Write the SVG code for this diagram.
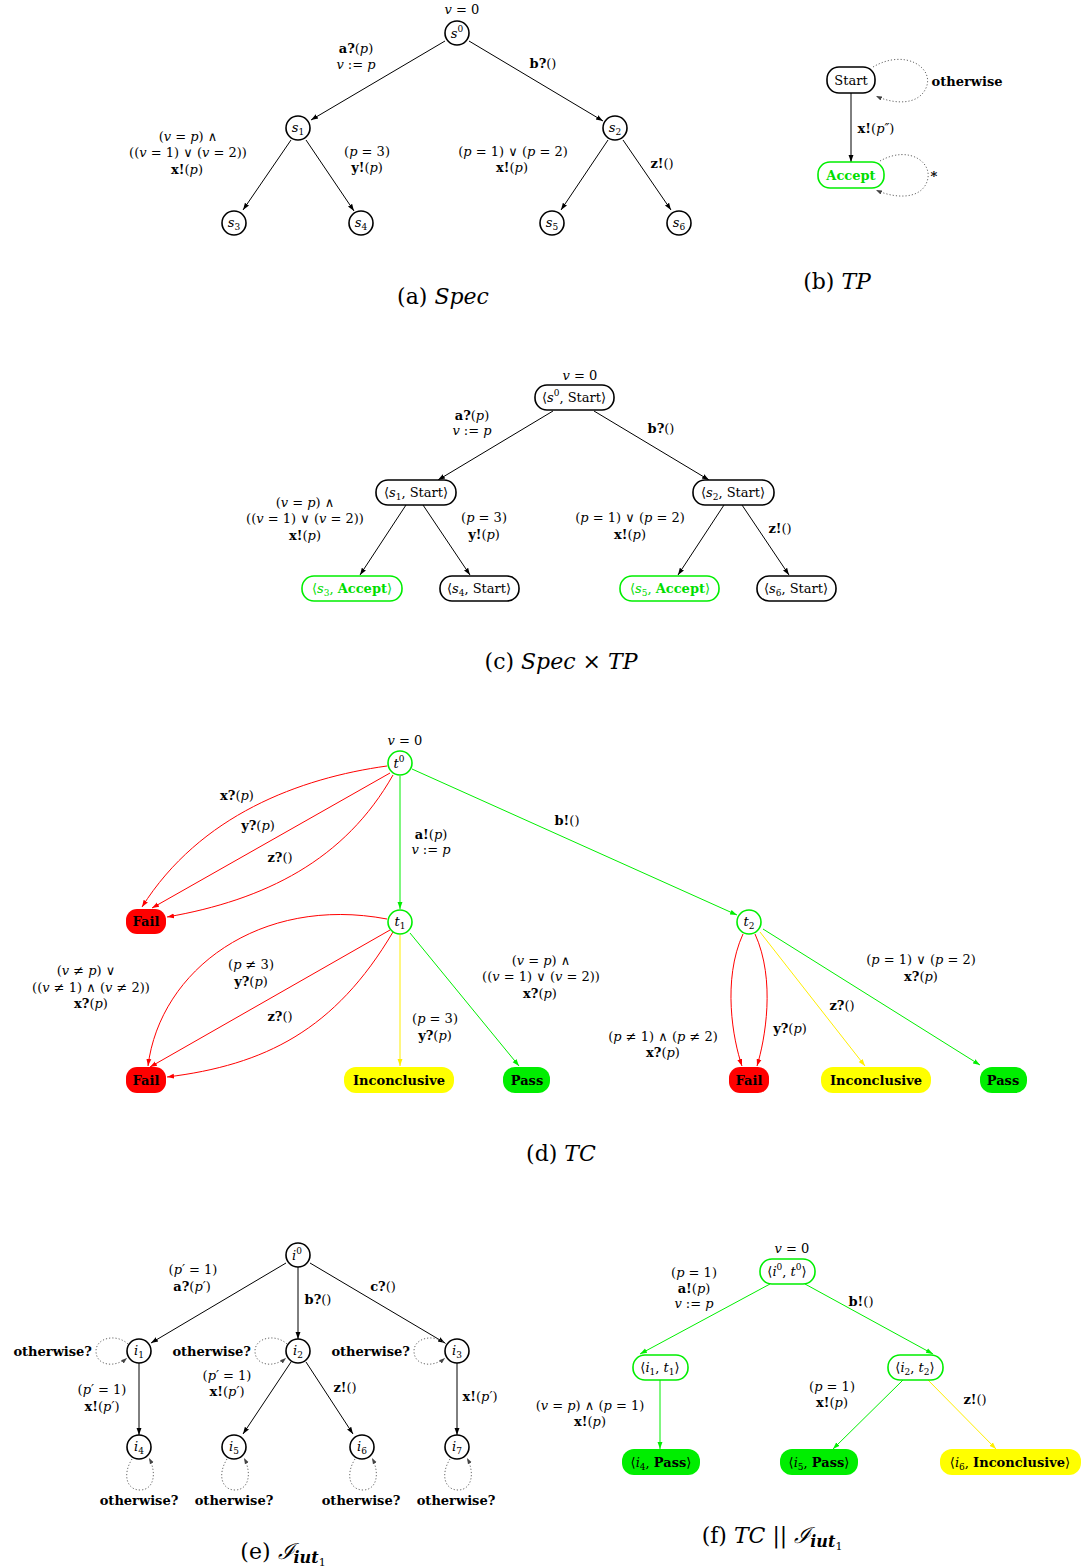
<svg xmlns="http://www.w3.org/2000/svg" width="1088" height="1568" viewBox="0 0 1088 1568">
<style>
text{font-family:"DejaVu Serif","Liberation Serif",serif;font-size:13px;fill:#000;text-anchor:middle}
.i{font-style:italic}
.b{font-weight:bold}
.sm{font-size:9px}
.cap{font-size:22px}
.end{text-anchor:end}
.n{fill:#fff;stroke:#000;stroke-width:1.6}
.ng{fill:#fff;stroke:#00ee00;stroke-width:1.6}
.e{fill:none;stroke:#000;stroke-width:1;marker-end:url(#ak)}
.er{fill:none;stroke:#ff0000;stroke-width:1;marker-end:url(#ar)}
.eg{fill:none;stroke:#00ee00;stroke-width:1;marker-end:url(#ag)}
.ey{fill:none;stroke:#ffee00;stroke-width:1;marker-end:url(#ay)}
.ed{fill:none;stroke:#666;stroke-width:1;stroke-dasharray:1.2 2;marker-end:url(#ad)}
.fail{fill:#ff0000}
.pass{fill:#00ee00}
.inc{fill:#ffff00}
</style>
<defs>
<marker id="ak" viewBox="0 0 10 10" refX="10" refY="5" markerWidth="7" markerHeight="7" markerUnits="userSpaceOnUse" orient="auto"><path d="M0,1.5 L10,5 L0,8.5 z" fill="#000"/></marker>
<marker id="ar" viewBox="0 0 10 10" refX="10" refY="5" markerWidth="7" markerHeight="7" markerUnits="userSpaceOnUse" orient="auto"><path d="M0,1.5 L10,5 L0,8.5 z" fill="#ff0000"/></marker>
<marker id="ag" viewBox="0 0 10 10" refX="10" refY="5" markerWidth="7" markerHeight="7" markerUnits="userSpaceOnUse" orient="auto"><path d="M0,1.5 L10,5 L0,8.5 z" fill="#00ee00"/></marker>
<marker id="ay" viewBox="0 0 10 10" refX="10" refY="5" markerWidth="7" markerHeight="7" markerUnits="userSpaceOnUse" orient="auto"><path d="M0,1.5 L10,5 L0,8.5 z" fill="#ffee00"/></marker>
<marker id="ad" viewBox="0 0 10 10" refX="10" refY="5" markerWidth="6" markerHeight="6" markerUnits="userSpaceOnUse" orient="auto"><path d="M0,1.5 L10,5 L0,8.5 z" fill="#444"/></marker>
</defs>

<!-- ===================== (a) Spec ===================== -->
<g id="a-connectors">
<line class="e" x1="445" y1="41" x2="311" y2="120"/>
<line class="e" x1="469" y1="41" x2="603" y2="121"/>
<line class="e" x1="291" y1="140" x2="243" y2="210"/>
<line class="e" x1="306" y1="140" x2="354" y2="211"/>
<line class="e" x1="608" y1="140" x2="561" y2="210"/>
<line class="e" x1="623" y1="140" x2="671" y2="210"/>
</g>
<g id="a-labels">
<text x="462" y="14" font-size="12"><tspan class="i">v</tspan> = 0</text>
<text x="356" y="53"><tspan class="b">a?</tspan>(<tspan class="i">p</tspan>)</text>
<text x="356" y="69"><tspan class="i">v</tspan> := <tspan class="i">p</tspan></text>
<text x="543" y="68"><tspan class="b">b?</tspan>()</text>
<text x="188" y="141">(<tspan class="i">v</tspan> = <tspan class="i">p</tspan>) ∧</text>
<text x="188" y="157">((<tspan class="i">v</tspan> = 1) ∨ (<tspan class="i">v</tspan> = 2))</text>
<text x="187" y="174"><tspan class="b">x!</tspan>(<tspan class="i">p</tspan>)</text>
<text x="367" y="156">(<tspan class="i">p</tspan> = 3)</text>
<text x="367" y="172"><tspan class="b">y!</tspan>(<tspan class="i">p</tspan>)</text>
<text x="513" y="156">(<tspan class="i">p</tspan> = 1) ∨ (<tspan class="i">p</tspan> = 2)</text>
<text x="512" y="172"><tspan class="b">x!</tspan>(<tspan class="i">p</tspan>)</text>
<text x="662" y="168"><tspan class="b">z!</tspan>()</text>
</g>
<g id="a-s0"><circle class="n" cx="457" cy="33" r="12"/><text x="457" y="38"><tspan class="i">s</tspan><tspan class="sm" dy="-6">0</tspan></text></g>
<g id="a-s1"><circle class="n" cx="298" cy="128" r="12"/><text x="298" y="132"><tspan class="i">s</tspan><tspan class="sm" dy="3">1</tspan></text></g>
<g id="a-s2"><circle class="n" cx="615" cy="128" r="12"/><text x="615" y="132"><tspan class="i">s</tspan><tspan class="sm" dy="3">2</tspan></text></g>
<g id="a-s3"><circle class="n" cx="234" cy="223" r="12"/><text x="234" y="227"><tspan class="i">s</tspan><tspan class="sm" dy="3">3</tspan></text></g>
<g id="a-s4"><circle class="n" cx="361" cy="223" r="12"/><text x="361" y="227"><tspan class="i">s</tspan><tspan class="sm" dy="3">4</tspan></text></g>
<g id="a-s5"><circle class="n" cx="552" cy="223" r="12"/><text x="552" y="227"><tspan class="i">s</tspan><tspan class="sm" dy="3">5</tspan></text></g>
<g id="a-s6"><circle class="n" cx="679" cy="223" r="12"/><text x="679" y="227"><tspan class="i">s</tspan><tspan class="sm" dy="3">6</tspan></text></g>
<text class="cap" x="443" y="304">(a) <tspan class="i">Spec</tspan></text>

<!-- ===================== (b) TP ===================== -->
<g id="b-connectors">
<line class="e" x1="851" y1="93" x2="851" y2="162"/>
<path class="ed" d="M873 67 C905 48 935 68 926 88 C918 106 893 104 876 96"/>
<path class="ed" d="M880 161 C910 144 936 164 926 184 C918 200 893 198 876 190"/>
</g>
<g id="b-labels">
<text x="876" y="133"><tspan class="b">x!</tspan>(<tspan class="i">p″</tspan>)</text>
<text x="967" y="86" class="b">otherwise</text>
<text x="934" y="181" class="b">*</text>
</g>
<g id="b-start"><rect class="n" x="827" y="67" width="48" height="26" rx="12"/><text x="851" y="85">Start</text></g>
<g id="b-accept"><rect class="ng" x="818" y="162" width="66" height="26" rx="12"/><text x="851" y="180" class="b" style="fill:#00dd00">Accept</text></g>
<text class="cap" x="837" y="289">(b) <tspan class="i">TP</tspan></text>

<!-- ===================== (c) Spec x TP ===================== -->
<g id="c-connectors">
<line class="e" x1="553" y1="411" x2="438" y2="480"/>
<line class="e" x1="594" y1="411" x2="709" y2="480"/>
<line class="e" x1="406" y1="505" x2="360" y2="575"/>
<line class="e" x1="423" y1="505" x2="470" y2="575"/>
<line class="e" x1="724" y1="505" x2="678" y2="575"/>
<line class="e" x1="742" y1="505" x2="789" y2="575"/>
</g>
<g id="c-labels">
<text x="580" y="380" font-size="12"><tspan class="i">v</tspan> = 0</text>
<text x="472" y="420"><tspan class="b">a?</tspan>(<tspan class="i">p</tspan>)</text>
<text x="472" y="435"><tspan class="i">v</tspan> := <tspan class="i">p</tspan></text>
<text x="661" y="433"><tspan class="b">b?</tspan>()</text>
<text x="305" y="507">(<tspan class="i">v</tspan> = <tspan class="i">p</tspan>) ∧</text>
<text x="305" y="523">((<tspan class="i">v</tspan> = 1) ∨ (<tspan class="i">v</tspan> = 2))</text>
<text x="305" y="540"><tspan class="b">x!</tspan>(<tspan class="i">p</tspan>)</text>
<text x="484" y="522">(<tspan class="i">p</tspan> = 3)</text>
<text x="484" y="539"><tspan class="b">y!</tspan>(<tspan class="i">p</tspan>)</text>
<text x="630" y="522">(<tspan class="i">p</tspan> = 1) ∨ (<tspan class="i">p</tspan> = 2)</text>
<text x="630" y="539"><tspan class="b">x!</tspan>(<tspan class="i">p</tspan>)</text>
<text x="780" y="533"><tspan class="b">z!</tspan>()</text>
</g>
<g id="c-s0"><rect class="n" x="535" y="385" width="79" height="25" rx="12"/><text x="574" y="402">⟨<tspan class="i">s</tspan><tspan class="sm" dy="-6">0</tspan><tspan dy="6">, Start⟩</tspan></text></g>
<g id="c-s1"><rect class="n" x="376" y="480" width="80" height="25" rx="12"/><text x="416" y="497">⟨<tspan class="i">s</tspan><tspan class="sm" dy="3">1</tspan><tspan dy="-3">, Start⟩</tspan></text></g>
<g id="c-s2"><rect class="n" x="693" y="480" width="81" height="25" rx="12"/><text x="733" y="497">⟨<tspan class="i">s</tspan><tspan class="sm" dy="3">2</tspan><tspan dy="-3">, Start⟩</tspan></text></g>
<g id="c-s3"><rect class="ng" x="302" y="576" width="100" height="25" rx="12"/><text x="352" y="593" style="fill:#00dd00">⟨<tspan class="i">s</tspan><tspan class="sm" dy="3">3</tspan><tspan dy="-3">, </tspan><tspan class="b">Accept</tspan>⟩</text></g>
<g id="c-s4"><rect class="n" x="440" y="576" width="79" height="25" rx="12"/><text x="479" y="593">⟨<tspan class="i">s</tspan><tspan class="sm" dy="3">4</tspan><tspan dy="-3">, Start⟩</tspan></text></g>
<g id="c-s5"><rect class="ng" x="620" y="576" width="99" height="25" rx="12"/><text x="670" y="593" style="fill:#00dd00">⟨<tspan class="i">s</tspan><tspan class="sm" dy="3">5</tspan><tspan dy="-3">, </tspan><tspan class="b">Accept</tspan>⟩</text></g>
<g id="c-s6"><rect class="n" x="757" y="576" width="79" height="25" rx="12"/><text x="796" y="593">⟨<tspan class="i">s</tspan><tspan class="sm" dy="3">6</tspan><tspan dy="-3">, Start⟩</tspan></text></g>
<text class="cap" x="561" y="669">(c) <tspan class="i">Spec</tspan> × <tspan class="i">TP</tspan></text>

<!-- ===================== (d) TC ===================== -->
<g id="d-connectors">
<path class="er" d="M387 766 C300 778 200 815 142 907"/>
<line class="er" x1="390" y1="773" x2="152" y2="908"/>
<path class="er" d="M393 775 C345 860 265 900 167 917"/>
<line class="eg" x1="400" y1="776" x2="400" y2="909"/>
<line class="eg" x1="412" y1="769" x2="737" y2="915"/>
<path class="er" d="M387 919 C260 895 160 970 148 1066"/>
<line class="er" x1="390" y1="930" x2="150" y2="1067"/>
<path class="er" d="M393 932 C335 1030 265 1065 167 1077"/>
<line class="ey" x1="400" y1="935" x2="400" y2="1066"/>
<line class="eg" x1="410" y1="933" x2="519" y2="1066"/>
<path class="er" d="M743 934 C722 980 733 1040 742 1066"/>
<path class="er" d="M755 934 C776 980 765 1040 757 1066"/>
<line class="ey" x1="760" y1="932" x2="865" y2="1066"/>
<line class="eg" x1="763" y1="929" x2="980" y2="1065"/>
</g>
<g id="d-labels">
<text x="405" y="745" font-size="12"><tspan class="i">v</tspan> = 0</text>
<text x="237" y="800"><tspan class="b">x?</tspan>(<tspan class="i">p</tspan>)</text>
<text x="258" y="830"><tspan class="b">y?</tspan>(<tspan class="i">p</tspan>)</text>
<text x="280" y="862"><tspan class="b">z?</tspan>()</text>
<text x="431" y="839"><tspan class="b">a!</tspan>(<tspan class="i">p</tspan>)</text>
<text x="431" y="854"><tspan class="i">v</tspan> := <tspan class="i">p</tspan></text>
<text x="567" y="825"><tspan class="b">b!</tspan>()</text>
<text x="86" y="975">(<tspan class="i">v</tspan> ≠ <tspan class="i">p</tspan>) ∨</text>
<text x="91" y="992">((<tspan class="i">v</tspan> ≠ 1) ∧ (<tspan class="i">v</tspan> ≠ 2))</text>
<text x="91" y="1008"><tspan class="b">x?</tspan>(<tspan class="i">p</tspan>)</text>
<text x="251" y="969">(<tspan class="i">p</tspan> ≠ 3)</text>
<text x="251" y="986"><tspan class="b">y?</tspan>(<tspan class="i">p</tspan>)</text>
<text x="280" y="1021"><tspan class="b">z?</tspan>()</text>
<text x="435" y="1023">(<tspan class="i">p</tspan> = 3)</text>
<text x="435" y="1040"><tspan class="b">y?</tspan>(<tspan class="i">p</tspan>)</text>
<text x="541" y="965">(<tspan class="i">v</tspan> = <tspan class="i">p</tspan>) ∧</text>
<text x="541" y="981">((<tspan class="i">v</tspan> = 1) ∨ (<tspan class="i">v</tspan> = 2))</text>
<text x="540" y="998"><tspan class="b">x?</tspan>(<tspan class="i">p</tspan>)</text>
<text x="663" y="1041">(<tspan class="i">p</tspan> ≠ 1) ∧ (<tspan class="i">p</tspan> ≠ 2)</text>
<text x="663" y="1057"><tspan class="b">x?</tspan>(<tspan class="i">p</tspan>)</text>
<text x="790" y="1033"><tspan class="b">y?</tspan>(<tspan class="i">p</tspan>)</text>
<text x="842" y="1010"><tspan class="b">z?</tspan>()</text>
<text x="921" y="964">(<tspan class="i">p</tspan> = 1) ∨ (<tspan class="i">p</tspan> = 2)</text>
<text x="921" y="981"><tspan class="b">x?</tspan>(<tspan class="i">p</tspan>)</text>
</g>
<g id="d-t0"><circle class="ng" cx="400" cy="763" r="12"/><text x="399" y="768"><tspan class="i">t</tspan><tspan class="sm" dy="-6">0</tspan></text></g>
<g id="d-t1"><circle class="ng" cx="400" cy="922" r="12"/><text x="400" y="926"><tspan class="i">t</tspan><tspan class="sm" dy="3">1</tspan></text></g>
<g id="d-t2"><circle class="ng" cx="749" cy="922" r="12"/><text x="749" y="926"><tspan class="i">t</tspan><tspan class="sm" dy="3">2</tspan></text></g>
<g id="d-fail1"><rect class="fail" x="126" y="909" width="40" height="25" rx="11"/><text x="146" y="926" class="b">Fail</text></g>
<g id="d-fail2"><rect class="fail" x="126" y="1067" width="40" height="26" rx="11"/><text x="146" y="1085" class="b">Fail</text></g>
<g id="d-inc1"><rect class="inc" x="344" y="1067" width="110" height="26" rx="12"/><text x="399" y="1085" class="b">Inconclusive</text></g>
<g id="d-pass1"><rect class="pass" x="503" y="1067" width="47" height="26" rx="12"/><text x="527" y="1085" class="b">Pass</text></g>
<g id="d-fail3"><rect class="fail" x="729" y="1067" width="40" height="26" rx="11"/><text x="749" y="1085" class="b">Fail</text></g>
<g id="d-inc2"><rect class="inc" x="821" y="1067" width="110" height="26" rx="12"/><text x="876" y="1085" class="b">Inconclusive</text></g>
<g id="d-pass2"><rect class="pass" x="980" y="1067" width="47" height="26" rx="12"/><text x="1003" y="1085" class="b">Pass</text></g>
<text class="cap" x="561" y="1161">(d) <tspan class="i">TC</tspan></text>

<!-- ===================== (e) I_iut1 ===================== -->
<g id="e-connectors">
<line class="e" x1="286" y1="1263" x2="151" y2="1343"/>
<line class="e" x1="298" y1="1267" x2="298" y2="1339"/>
<line class="e" x1="310" y1="1263" x2="445" y2="1343"/>
<line class="e" x1="139" y1="1363" x2="139" y2="1435"/>
<line class="e" x1="291" y1="1362" x2="243" y2="1434"/>
<line class="e" x1="306" y1="1362" x2="353" y2="1434"/>
<line class="e" x1="457" y1="1363" x2="457" y2="1435"/>
<path class="ed" d="M128 1344 C116 1333 96 1338 96 1351 C96 1366 115 1368 127 1358"/>
<path class="ed" d="M287 1344 C275 1333 255 1338 255 1351 C255 1366 274 1368 286 1358"/>
<path class="ed" d="M446 1344 C434 1333 414 1338 414 1351 C414 1366 433 1368 445 1358"/>
<path class="ed" d="M132 1459 C122 1475 127 1490 140 1490 C154 1490 157 1473 149 1458"/>
<path class="ed" d="M227 1459 C217 1475 222 1490 235 1490 C249 1490 252 1473 244 1458"/>
<path class="ed" d="M355 1459 C345 1475 350 1490 363 1490 C377 1490 380 1473 372 1458"/>
<path class="ed" d="M450 1459 C440 1475 445 1490 458 1490 C472 1490 475 1473 467 1458"/>
</g>
<g id="e-labels">
<text x="193" y="1274">(<tspan class="i">p′</tspan> = 1)</text>
<text x="192" y="1291"><tspan class="b">a?</tspan>(<tspan class="i">p′</tspan>)</text>
<text x="318" y="1304"><tspan class="b">b?</tspan>()</text>
<text x="383" y="1291"><tspan class="b">c?</tspan>()</text>
<text x="102" y="1394">(<tspan class="i">p′</tspan> = 1)</text>
<text x="102" y="1411"><tspan class="b">x!</tspan>(<tspan class="i">p′</tspan>)</text>
<text x="227" y="1380">(<tspan class="i">p′</tspan> = 1)</text>
<text x="227" y="1396"><tspan class="b">x!</tspan>(<tspan class="i">p′</tspan>)</text>
<text x="345" y="1392"><tspan class="b">z!</tspan>()</text>
<text x="480" y="1401"><tspan class="b">x!</tspan>(<tspan class="i">p′</tspan>)</text>
<text x="92" y="1356" class="b end">otherwise?</text>
<text x="251" y="1356" class="b end">otherwise?</text>
<text x="410" y="1356" class="b end">otherwise?</text>
<text x="139" y="1505" class="b">otherwise?</text>
<text x="234" y="1505" class="b">otherwise?</text>
<text x="361" y="1505" class="b">otherwise?</text>
<text x="456" y="1505" class="b">otherwise?</text>
</g>
<g id="e-i0"><circle class="n" cx="298" cy="1255" r="12"/><text x="297" y="1260"><tspan class="i">i</tspan><tspan class="sm" dy="-6">0</tspan></text></g>
<g id="e-i1"><circle class="n" cx="139" cy="1351" r="12"/><text x="139" y="1355"><tspan class="i">i</tspan><tspan class="sm" dy="3">1</tspan></text></g>
<g id="e-i2"><circle class="n" cx="298" cy="1351" r="12"/><text x="298" y="1355"><tspan class="i">i</tspan><tspan class="sm" dy="3">2</tspan></text></g>
<g id="e-i3"><circle class="n" cx="457" cy="1351" r="12"/><text x="457" y="1355"><tspan class="i">i</tspan><tspan class="sm" dy="3">3</tspan></text></g>
<g id="e-i4"><circle class="n" cx="139" cy="1447" r="12"/><text x="139" y="1451"><tspan class="i">i</tspan><tspan class="sm" dy="3">4</tspan></text></g>
<g id="e-i5"><circle class="n" cx="234" cy="1447" r="12"/><text x="234" y="1451"><tspan class="i">i</tspan><tspan class="sm" dy="3">5</tspan></text></g>
<g id="e-i6"><circle class="n" cx="362" cy="1447" r="12"/><text x="362" y="1451"><tspan class="i">i</tspan><tspan class="sm" dy="3">6</tspan></text></g>
<g id="e-i7"><circle class="n" cx="457" cy="1447" r="12"/><text x="457" y="1451"><tspan class="i">i</tspan><tspan class="sm" dy="3">7</tspan></text></g>
<text class="cap" x="283" y="1559">(e) <tspan class="i">ℐ</tspan><tspan class="i b" font-size="16" dy="4">iut</tspan><tspan font-size="11" dy="3">1</tspan></text>

<!-- ===================== (f) TC || I_iut1 ===================== -->
<g id="f-connectors">
<line class="eg" x1="770" y1="1284" x2="640" y2="1354"/>
<line class="eg" x1="805" y1="1284" x2="933" y2="1354"/>
<line class="eg" x1="660" y1="1380" x2="660" y2="1449"/>
<line class="eg" x1="903" y1="1380" x2="833" y2="1449"/>
<line class="ey" x1="928" y1="1380" x2="996" y2="1449"/>
</g>
<g id="f-labels">
<text x="792" y="1253" font-size="12"><tspan class="i">v</tspan> = 0</text>
<text x="694" y="1277">(<tspan class="i">p</tspan> = 1)</text>
<text x="694" y="1293"><tspan class="b">a!</tspan>(<tspan class="i">p</tspan>)</text>
<text x="694" y="1308"><tspan class="i">v</tspan> := <tspan class="i">p</tspan></text>
<text x="861" y="1306"><tspan class="b">b!</tspan>()</text>
<text x="590" y="1410">(<tspan class="i">v</tspan> = <tspan class="i">p</tspan>) ∧ (<tspan class="i">p</tspan> = 1)</text>
<text x="590" y="1426"><tspan class="b">x!</tspan>(<tspan class="i">p</tspan>)</text>
<text x="832" y="1391">(<tspan class="i">p</tspan> = 1)</text>
<text x="832" y="1407"><tspan class="b">x!</tspan>(<tspan class="i">p</tspan>)</text>
<text x="975" y="1404"><tspan class="b">z!</tspan>()</text>
</g>
<g id="f-root"><rect class="ng" x="760" y="1259" width="55" height="25" rx="12"/><text x="787" y="1276">⟨<tspan class="i">i</tspan><tspan class="sm" dy="-6">0</tspan><tspan dy="6">, </tspan><tspan class="i">t</tspan><tspan class="sm" dy="-6">0</tspan><tspan dy="6">⟩</tspan></text></g>
<g id="f-i1t1"><rect class="ng" x="633" y="1355" width="55" height="25" rx="12"/><text x="660" y="1372">⟨<tspan class="i">i</tspan><tspan class="sm" dy="3">1</tspan><tspan dy="-3">, </tspan><tspan class="i">t</tspan><tspan class="sm" dy="3">1</tspan><tspan dy="-3">⟩</tspan></text></g>
<g id="f-i2t2"><rect class="ng" x="888" y="1355" width="55" height="25" rx="12"/><text x="915" y="1372">⟨<tspan class="i">i</tspan><tspan class="sm" dy="3">2</tspan><tspan dy="-3">, </tspan><tspan class="i">t</tspan><tspan class="sm" dy="3">2</tspan><tspan dy="-3">⟩</tspan></text></g>
<g id="f-i4"><rect class="pass" x="622" y="1449" width="78" height="26" rx="12"/><text x="661" y="1467">⟨<tspan class="i">i</tspan><tspan class="sm" dy="3">4</tspan><tspan dy="-3">, </tspan><tspan class="b">Pass</tspan>⟩</text></g>
<g id="f-i5"><rect class="pass" x="780" y="1449" width="78" height="26" rx="12"/><text x="819" y="1467">⟨<tspan class="i">i</tspan><tspan class="sm" dy="3">5</tspan><tspan dy="-3">, </tspan><tspan class="b">Pass</tspan>⟩</text></g>
<g id="f-i6"><rect class="inc" x="940" y="1449" width="141" height="26" rx="12"/><text x="1010" y="1467">⟨<tspan class="i">i</tspan><tspan class="sm" dy="3">6</tspan><tspan dy="-3">, </tspan><tspan class="b">Inconclusive</tspan>⟩</text></g>
<text class="cap" x="772" y="1543">(f) <tspan class="i">TC</tspan> || <tspan class="i">ℐ</tspan><tspan class="i b" font-size="16" dy="4">iut</tspan><tspan font-size="11" dy="3">1</tspan></text>
</svg>
